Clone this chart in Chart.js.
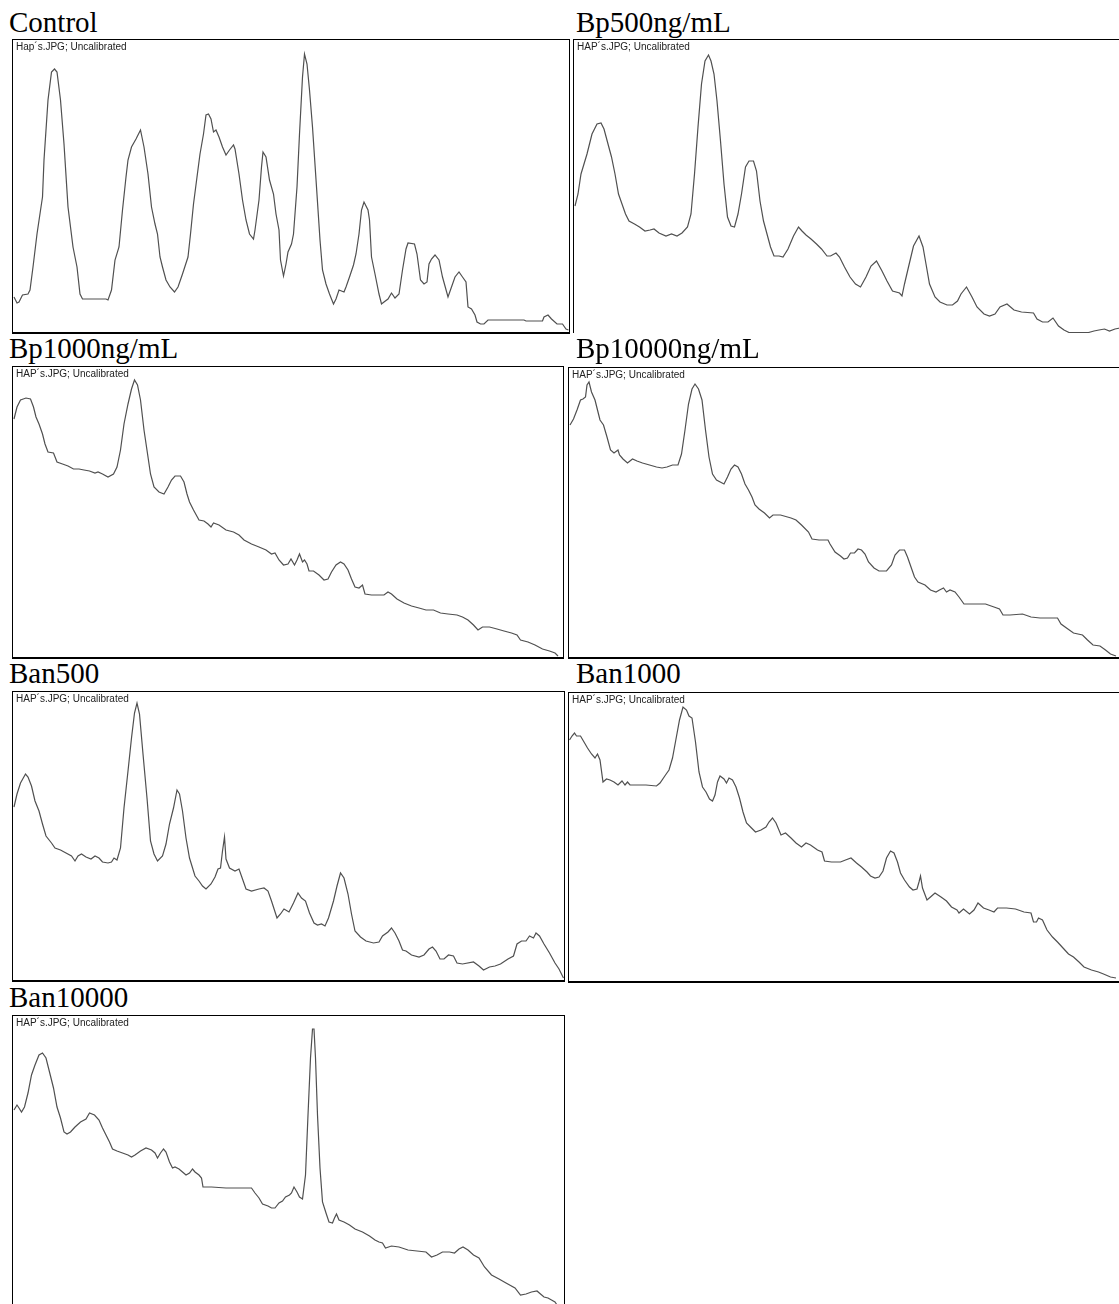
<!DOCTYPE html>
<html>
<head>
<meta charset="utf-8">
<script src="https://cdn.jsdelivr.net/npm/chart.js@4"></script>
<style>
  body { margin: 0; width: 1119px; height: 1304px; overflow: hidden; background: #fff; position: relative; }
  .title { position: absolute; font-family: "Liberation Serif", "Times New Roman", serif; font-size: 29px; line-height: 1; color: #000; white-space: nowrap; }
  .box { position: absolute; border: 1px solid #000; border-bottom-width: 2px; background: #fff; }
  .box canvas { position: absolute; left: 0; top: 0; }
  .tag { position: absolute; left: 3px; top: 1px; font-family: "Liberation Sans", Arial, sans-serif; font-size: 10px; color: #222; z-index: 2; }
</style>
</head>
<body>
<script>
// density profiles: [position, grey level above baseline]
const control = [[1,35],[4,29],[6,30],[9.5,37],[15,38],[17,42],[20,65],[24,98],[28,125],[29.5,135],[31,172],[35,232],[38.5,260],[41.5,263],[44,260],[47.5,232],[51,188],[55,125],[57.5,105],[60,85],[64,65],[67,38],[69.5,33],[93,33],[95,32],[98.5,42],[102,72],[106,85],[109.5,122],[113,155],[115,172],[118.5,185],[123,193],[127.5,202],[131,185],[135,158],[138.5,125],[142,108],[144.5,98],[147,75],[149.5,65],[153,52],[157,45],[161.5,40],[165,45],[169.5,58],[175,75],[177.5,98],[180.5,128],[184,155],[187,178],[190.5,198],[193,217],[195.5,218],[198,213],[200.5,200],[203,202],[206,195],[209.5,185],[213,177],[216.5,182],[220.5,187],[222,183],[226,158],[229.5,132],[233,112],[236.5,98],[240.5,93],[242,102],[246,132],[248.5,165],[250,180],[253,175],[256.5,152],[260.5,138],[263,118],[266,102],[267.5,72],[270.5,56],[273,68],[275,80],[278.5,88],[280.5,98],[284,145],[286.5,198],[289.5,255],[291.5,278],[294,268],[296.5,242],[299.5,205],[303.5,145],[307,92],[309.5,62],[313,48],[316.5,38],[320.5,28],[323,33],[326,42],[331,40],[333,45],[336.5,55],[340.5,67],[343,78],[346,98],[348.5,122],[351,130],[355,122],[356.5,112],[358.5,75],[362,58],[366,38],[368.5,28],[371,30],[375,33],[378.5,39],[382,34],[386,38],[389.5,62],[393,83],[395,89],[401.5,88],[404,78],[407.5,52],[411,48],[414,50],[416,68],[418.5,73],[422,77],[426,72],[429.5,55],[435,35],[438.5,45],[442,55],[446,60],[449.5,55],[453,50],[455,25],[458.5,23],[462,17],[464,10],[467.5,8],[471,8],[475,12],[511,12],[513,11],[529.5,11],[531,15],[535,17],[538.5,13],[544,8],[549.5,8],[553,3],[555.5,2]];

const bp500 = [[1,127],[4,139],[7,159],[13,179],[18,199],[23,209],[27,210],[30,204],[34,189],[37.5,176],[41,159],[44.5,139],[48,129],[51.5,119],[55,112],[60.5,109],[65.5,106],[71,102],[76,103],[80,104],[85,100],[92,97],[97.5,99],[103,97],[108,100],[113.5,106],[117,119],[120.5,159],[124,206],[127.5,249],[131,272],[134.5,278],[137,272],[140,259],[143,232],[146.5,192],[150,149],[153.5,116],[157,107],[160.5,106],[164,119],[167.5,139],[171.5,166],[175,172],[179.5,172],[182.5,162],[186,132],[189.5,112],[193,99],[196.5,86],[200,77],[205,77],[209,76],[214,84],[219.5,97],[224.5,106],[228,102],[232,98],[237,94],[242.5,89],[247.5,84],[253,77],[256.5,77],[262,80],[265.5,76],[270.5,66],[276,56],[281.5,49],[286.5,46],[292,56],[297,67],[302.5,72],[308,62],[313,52],[318.5,42],[325.5,40],[328,37],[330.5,49],[334.5,66],[339.5,87],[345,97],[349,86],[352,69],[355.5,49],[361,36],[366,31],[373,28],[378.5,28],[383.5,32],[387,39],[392.5,46],[398,36],[403,26],[410,19],[415.5,17],[421,19],[426,26],[433,29],[440,23],[447.5,21],[459.5,20],[463,14],[468.5,11],[474,11],[479,15],[484.5,7],[490,3],[495,0.5],[514.5,0.5],[520,2],[525,3],[530.5,4],[535.5,2],[541,4],[546,5]];

const bp1000 = [[1,238],[4,250],[7.5,257],[13,259],[17.5,258],[20.5,250],[23,240],[26,233],[29.5,223],[32,213],[35,205],[40.5,204],[44,195],[49.5,193],[55,191],[60.5,188],[66,188],[71,187],[76.5,186],[82,184],[85,185],[89.5,183],[95,180],[100.5,183],[104,190],[107.5,207],[111,233],[115,253],[118.5,268],[121.5,277],[124.5,272],[127.5,257],[131,227],[135,200],[137.5,183],[141,170],[146,165],[151,163],[155,170],[158.5,177],[162,181],[167.5,181],[171,175],[174,163],[176.5,155],[180.5,147],[186,137],[191,136],[195,133],[198,130],[200.5,134],[206,132],[213,127],[220.5,125],[226,122],[231,117],[238.5,113],[246,110],[253,107],[258.5,103],[262,104],[266,97],[270.5,92],[275,93],[278,98],[281.5,92],[284,97],[286.5,103],[289.5,95],[291.5,97],[294,93],[296,86],[300.5,86],[306,82],[311,77],[315,78],[318.5,85],[323,92],[327.5,95],[331,93],[335,87],[338.5,78],[342,70],[346,69],[349.5,72],[352,63],[358.5,62],[366,62],[371,62],[375,65],[378.5,63],[384,58],[391,54],[398.5,51],[406,49],[413,47],[420.5,47],[427.5,44],[435,43],[444,42],[449.5,40],[455,37],[460.5,32],[465,27],[469.5,30],[476.5,30],[484,28],[491,26],[498.5,24],[504,22],[507.5,17],[515,15],[522,12],[529.5,8],[536.5,6],[542,4],[545,1]];

const bp10000 = [[1,232],[4.5,238],[8,247],[11.5,257],[14,258],[16.5,260],[18,272],[20,275],[22.5,265],[26,257],[29.5,243],[31,237],[34.5,232],[38,220],[41.5,207],[45,204],[49,207],[50.5,202],[54,198],[58.5,194],[63.5,198],[68,196],[73.5,194],[80.5,192],[87.5,190],[93,189],[98,190],[103.5,192],[109,192],[112.5,203],[116,227],[119.5,253],[123,268],[126,273],[129.5,268],[133,257],[136.5,227],[140,200],[143.5,183],[147.5,177],[155,173],[158.5,180],[162,188],[165.5,192],[169,190],[172.5,183],[176,173],[179.5,167],[183,160],[186,152],[190,148],[195.5,144],[200.5,139],[204,142],[211.5,142],[222,139],[227,137],[232.5,132],[239.5,125],[243,118],[250,117],[259,117],[261,113],[266,105],[271.5,101],[275,98],[278.5,99],[281.5,104],[285.5,104],[289,108],[292.5,107],[296,103],[299.5,95],[305,89],[310,86],[317.5,86],[322.5,92],[326,102],[330.5,107],[335.5,107],[338.5,100],[342,90],[345.5,80],[349,75],[356,72],[361.5,67],[367,65],[370.5,67],[374.5,69],[377.5,65],[381,67],[386,65],[390,60],[395,53],[405.5,53],[416.5,53],[425,50],[430.5,48],[434,42],[441,42],[453.5,43],[462,40],[471,39],[488.5,39],[492,33],[497.5,29],[504.5,24],[513.5,22],[518.5,17],[524,12],[531,11],[536.5,7],[541.5,3],[547,1]];

const ban500 = [[1,173],[4,186],[7.5,197],[12.5,206],[15,203],[18.5,194],[22,179],[26,169],[29.5,156],[33,144],[38.5,137],[42,132],[47.5,130],[53,127],[58.5,124],[62,119],[65,124],[68.5,126],[73,123],[78,121],[82,124],[86,122],[89.5,118],[95,117],[98.5,118],[101,122],[104,120],[107.5,132],[111,172],[115,209],[118.5,242],[121.5,267],[124,277],[126.5,266],[130,226],[134,182],[137.5,139],[141,126],[144.5,119],[149.5,124],[153,136],[156.5,156],[160.5,172],[164,190],[166.5,186],[169.5,169],[173,142],[176.5,122],[182,104],[186,99],[189.5,94],[193,91],[198,96],[202,103],[205,111],[207.5,112],[209.5,129],[211.5,143],[213,121],[216.5,112],[222,109],[226,111],[229.5,101],[233,91],[238.5,89],[246,91],[251,92],[255,89],[258.5,79],[264,62],[267.5,66],[271,71],[276,68],[280.5,77],[285,87],[288.5,82],[292.5,79],[296.5,67],[301,57],[304.5,55],[308.5,56],[312,54],[315.5,62],[320.5,79],[324,94],[327.5,107],[331,102],[335,86],[338.5,66],[342,49],[347.5,43],[353,39],[360.5,37],[366,38],[369.5,44],[375,48],[378.5,52],[382,47],[386,39],[389.5,30],[393,29],[398.5,25],[406,23],[411,25],[416,31],[419.5,33],[423,29],[427,21],[431,21],[435.5,25],[440.5,24],[444,17],[449.5,16],[460.5,18],[466,14],[470.5,10],[476.5,13],[482,14],[487.5,16],[495,21],[500.5,24],[504,36],[508.5,39],[513,39],[516.5,44],[520.5,42],[523,47],[526.5,44],[531,36],[536.5,27],[542,17],[546,11],[550.5,2]];

const ban1000 = [[0.5,241],[3,245],[5.5,248],[7.5,245],[11.5,245],[15,239],[18.5,233],[22.5,227],[26,223],[28.5,227],[31,221],[34,199],[37.5,202],[41,201],[45,199],[49,196],[53,200],[56,196],[58.5,199],[61,196],[66.5,196],[77,196],[87.5,195],[91,198],[96.5,206],[100,211],[103.5,223],[107,242],[110.5,261],[114,274],[117.5,271],[120,265],[123,263],[126.5,239],[130,209],[133.5,194],[137,189],[140.5,182],[143.5,180],[146,186],[148.5,199],[151,205],[155,202],[157.5,198],[160,203],[163.5,201],[167,194],[170.5,183],[174,169],[177.5,158],[182.5,153],[186.5,149],[192,151],[197,154],[200,159],[203.5,163],[207,158],[212,146],[216.5,148],[222,143],[227,138],[232.5,134],[237,138],[241.5,136],[248.5,131],[253,129],[255.5,120],[262.5,119],[271.5,119],[276.5,121],[282,123],[287.5,118],[292.5,114],[298,109],[301.5,105],[306,103],[310,104],[314,110],[317.5,123],[321.5,130],[325,128],[328.5,119],[331.5,108],[335.5,101],[340.5,94],[344,91],[348,92],[350,99],[351.5,105],[353.5,93],[358,81],[361.5,84],[366,88],[372,84],[377.5,80],[382.5,74],[388,71],[390,68],[394.5,72],[400.5,67],[405,71],[409,78],[414.5,73],[420,71],[425,69],[428.5,73],[437.5,73],[446.5,72],[455,69],[462,68],[464.5,59],[467.5,59],[469.5,63],[473.5,61],[478,51],[483.5,44],[488.5,39],[494,33],[499.5,27],[504.5,24],[510,19],[515,14],[522.5,11],[529.5,9],[534.5,7],[541.5,4],[547,3]];

const ban10000 = [[1,196],[4,201],[6,198],[8.5,194],[11.5,199],[15,213],[18.5,231],[22,241],[26,251],[29.5,253],[33,248],[36.5,234],[40.5,218],[44,199],[47.5,188],[51,174],[54,172],[57.5,174],[62,179],[67.5,184],[73,187],[76.5,193],[81.5,191],[86,186],[89.5,178],[93,171],[96.5,164],[99.5,157],[104,155],[109.5,153],[115,151],[118.5,149],[122,151],[127.5,155],[133,158],[138.5,156],[142,153],[144.5,148],[147.5,153],[150.5,157],[153,154],[156.5,144],[159.5,138],[162,139],[166,137],[169.5,134],[173,131],[176.5,133],[179.5,137],[182,134],[186,131],[188.5,128],[190,119],[198.5,119],[213,118],[227.5,118],[238.5,118],[242,113],[246,108],[249.5,102],[255,100],[258.5,98],[262,98],[266,103],[269.5,105],[272.5,109],[276.5,111],[278.5,113],[281,119],[284,114],[286.5,109],[289.5,107],[292.5,131],[295,191],[297.5,248],[299.5,277],[301,277],[302.5,248],[304.5,191],[307,138],[309.5,104],[313,93],[316,84],[319.5,83],[321.5,88],[323.5,92],[326,86],[331,84],[336.5,81],[342,77],[349.5,74],[356.5,70],[362,66],[366,64],[369.5,63],[372.5,58],[378.5,60],[386,59],[395,56],[404,55],[413,54],[418.5,49],[424,51],[429.5,54],[436.5,54],[441.5,53],[446,57],[450,59],[455,56],[460.5,51],[466,48],[471.5,39],[478.5,31],[486,27],[493,23],[502,18],[507.5,11],[513,12],[518.5,14],[524,15],[527.5,12],[531,9],[535,8],[538.5,6],[542,4],[544,1]];

const titles = ['Control', 'Bp500ng/mL', 'Bp1000ng/mL', 'Bp10000ng/mL', 'Ban500', 'Ban1000', 'Ban10000'];
const tags = ['Hap´s.JPG; Uncalibrated', 'HAP´s.JPG; Uncalibrated', 'HAP´s.JPG; Uncalibrated', 'HAP´s.JPG; Uncalibrated', 'HAP´s.JPG; Uncalibrated', 'HAP´s.JPG; Uncalibrated', 'HAP´s.JPG; Uncalibrated'];
const series = [control, bp500, bp1000, bp10000, ban500, ban1000, ban10000];

// layout of the panels on the page
const panels = [
  { tx: 9,   ty: 8,   x: 12,  y: 39,   w: 556, h: 292 },
  { tx: 576, ty: 8,   x: 573, y: 39,   w: 560, h: 293, noBottom: true },
  { tx: 9,   ty: 334, x: 12,  y: 366,  w: 550, h: 290 },
  { tx: 576, ty: 334, x: 568, y: 367,  w: 560, h: 289 },
  { tx: 9,   ty: 659, x: 12,  y: 691,  w: 551, h: 288 },
  { tx: 576, ty: 659, x: 568, y: 692,  w: 560, h: 288 },
  { tx: 9,   ty: 983, x: 12,  y: 1015, w: 551, h: 290 }
];

panels.forEach(function (p, i) {
  var t = document.createElement('div');
  t.className = 'title';
  t.style.left = p.tx + 'px';
  t.style.top = p.ty + 'px';
  t.textContent = titles[i];
  document.body.appendChild(t);

  var box = document.createElement('div');
  box.className = 'box';
  box.style.left = p.x + 'px';
  box.style.top = p.y + 'px';
  box.style.width = p.w + 'px';
  box.style.height = p.h + 'px';
  if (p.noBottom) box.style.borderBottom = 'none';
  document.body.appendChild(box);

  var tag = document.createElement('div');
  tag.className = 'tag';
  tag.textContent = tags[i];
  box.appendChild(tag);

  var cv = document.createElement('canvas');
  cv.width = p.w;
  cv.height = p.h;
  box.appendChild(cv);

  new Chart(cv, {
    type: 'line',
    data: {
      datasets: [{
        data: series[i].map(function (d) { return { x: d[0], y: d[1] }; }),
        borderColor: '#505050',
        borderWidth: 1.2,
        pointRadius: 0,
        tension: 0,
        fill: false
      }]
    },
    options: {
      responsive: false,
      animation: false,
      devicePixelRatio: 1,
      layout: { padding: 0 },
      plugins: { legend: { display: false }, tooltip: { enabled: false } },
      scales: {
        x: { type: 'linear', display: false, min: 0, max: p.w },
        y: { display: false, min: 0, max: p.h }
      }
    }
  });
});
</script>
</body>
</html>
